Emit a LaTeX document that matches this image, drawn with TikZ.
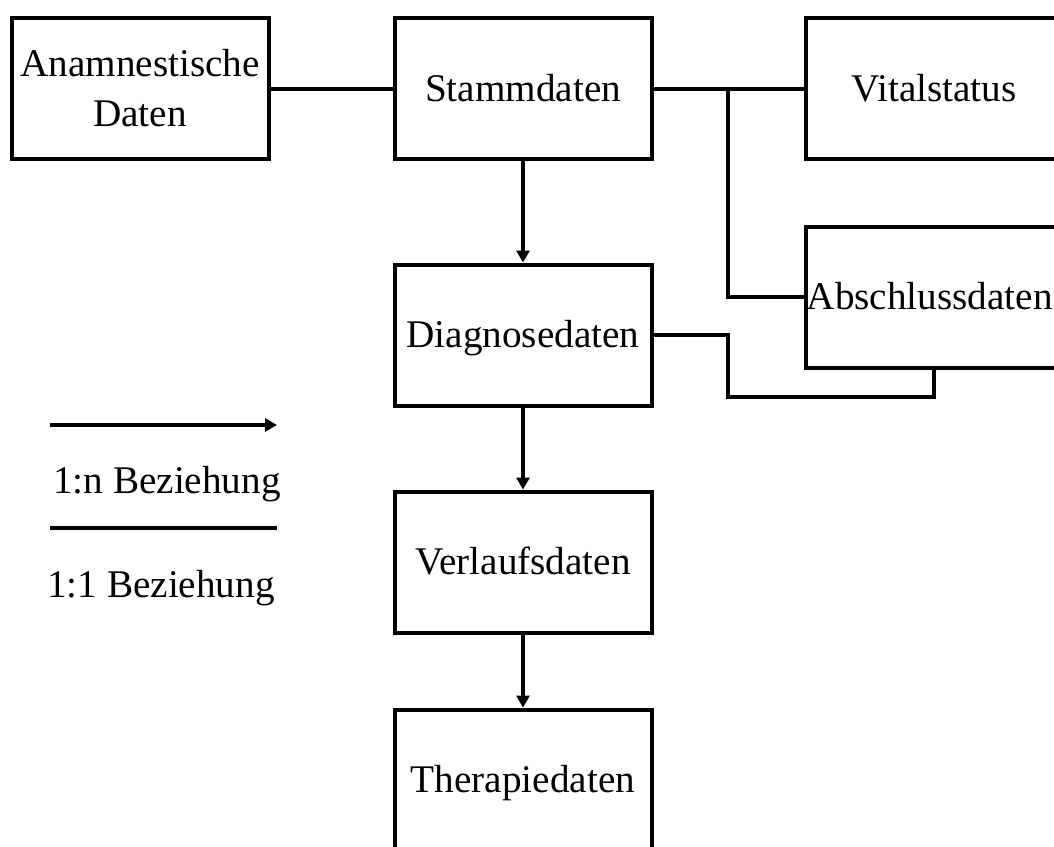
\documentclass[tikz,border=0pt]{standalone}
\usepackage{fontspec}
\setmainfont{Liberation Serif}
\usetikzlibrary{arrows.meta}
\begin{document}
\begin{tikzpicture}[x=1pt,y=-1pt,
  every node/.style={font=\fontsize{39.2}{50}\selectfont},
  box/.style={draw, line width=4pt, minimum width=257pt, minimum height=141pt,
    inner sep=0pt, text height=25.8pt, text depth=0pt},
  conn/.style={line width=4pt},
  arr/.style={line width=4pt, -{Triangle[length=12pt,width=13pt]}},
  legtext/.style={anchor=base west, inner sep=0pt}]
\useasboundingbox (0,0) rectangle (1054,846);
\node[box] (anam) at (140,88.5) {};
\node[align=center, inner sep=0pt] (anamtxt) at (anam.center) {Anamnestische\\Daten};
\node[box] (stamm) at (523,88.5) {Stammdaten};
\node[box] (vital) at (934,88.5) {Vitalstatus};
\node[box] (absch) at (934,297) {};
\node[inner sep=0pt, anchor=west, text height=25.8pt, text depth=0pt] (abschtxt) at ([xshift=3pt]absch.west) {Abschlussdaten};
\node[box] (diag) at (523,335) {Diagnosedaten};
\node[box] (verl) at (523,562) {Verlaufsdaten};
\node[box] (ther) at (523,780) {Therapiedaten};
\coordinate (j1) at (728,88.5);
\coordinate (j2) at (728,397);
\draw[conn] (anam.east) -- (stamm.west);
\draw[conn] (stamm.east) -- (vital.west);
\draw[conn] (j1) |- (absch.west);
\draw[conn] (diag.east) -| (j2) -| (absch.south);
\draw[arr] (stamm.south) -- (diag.north);
\draw[arr] (diag.south) -- (verl.north);
\draw[arr] (verl.south) -- (ther.north);
% legend
\coordinate (la1) at (50,425);
\coordinate (la2) at (277,425);
\coordinate (lb1) at (50,528);
\coordinate (lb2) at (277,528);
\draw[arr] (la1) -- (la2);
\draw[conn] (lb1) -- (lb2);
\node[legtext] (l1n) at (53,493) {1:n Beziehung};
\node[legtext] (l11) at (47,597) {1:1 Beziehung};
\end{tikzpicture}
\end{document}
